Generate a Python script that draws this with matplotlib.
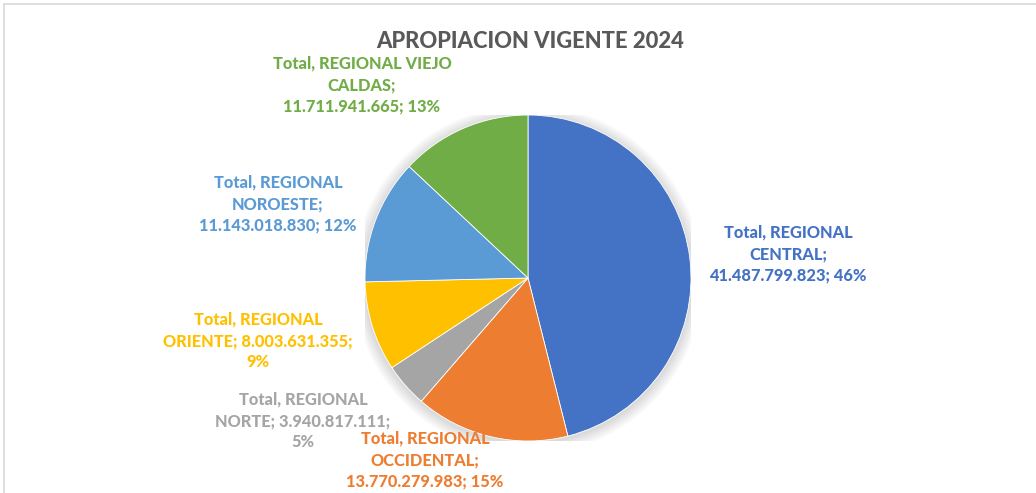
import matplotlib.pyplot as plt
from matplotlib.lines import Line2D

# data
regions = ["CENTRAL", "OCCIDENTAL", "NORTE", "ORIENTE", "NOROESTE", "VIEJO CALDAS"]
values = [41487799823, 13770279983, 3940817111, 8003631355, 11143018830, 11711941665]
colors = ["#4472C4", "#ED7D31", "#A5A5A5", "#FFC000", "#5B9BD5", "#70AD47"]
label_text = [
    "Total, REGIONAL\nCENTRAL;\n41.487.799.823; 46%",
    "Total, REGIONAL\nOCCIDENTAL;\n13.770.279.983; 15%",
    "Total, REGIONAL\nNORTE; 3.940.817.111;\n5%",
    "Total, REGIONAL\nORIENTE; 8.003.631.355;\n9%",
    "Total, REGIONAL\nNOROESTE;\n11.143.018.830; 12%",
    "Total, REGIONAL VIEJO\nCALDAS;\n11.711.941.665; 13%",
]
# label centres in pixels (x, y from top)
label_pos = [(788, 254), (425, 460), (303, 421), (258, 341), (278, 204), (362, 85)]

W, H = 1036, 493
plt.rcParams['font.family'] = ['Lato', 'DejaVu Sans']
fig = plt.figure(figsize=(W / 100, H / 100), dpi=100)

cx, cy, r = 528, 278, 163
ax = fig.add_axes([(cx - r) / W, (H - cy - r) / H, 2 * r / W, 2 * r / H])

# soft shadow around the pie
for k in range(6):
    ax.add_patch(plt.Circle((0.0, -0.01), 1.0 + 0.012 * (k + 1), color="black",
                            alpha=0.025, lw=0, zorder=0))

ax.pie(values, colors=colors, startangle=90, counterclock=False,
       wedgeprops=dict(linewidth=0.6, edgecolor="white"))
ax.set_xlim(-1, 1)
ax.set_ylim(-1, 1)
ax.set_aspect("equal")
ax.axis("off")

for txt, (px, py), c in zip(label_text, label_pos, colors):
    fig.text(px / W, 1 - py / H, txt, color=c, fontsize=11.8, fontweight="black",
             ha="center", va="center", linespacing=1.42)

fig.text(530 / W, 1 - 42 / H, "APROPIACION VIGENTE 2024", color="#595959",
         fontsize=15.8, fontweight="black", ha="center", va="center")

# chart frame (partly cut off)
fig.add_artist(Line2D([4 / W, 4 / W], [0, 1 - 4 / H], color="#D9D9D9", lw=1.2))
fig.add_artist(Line2D([4 / W, 1], [1 - 4 / H, 1 - 4 / H], color="#D9D9D9", lw=1.2))

fig.savefig("out.png", dpi=100, facecolor="white")
